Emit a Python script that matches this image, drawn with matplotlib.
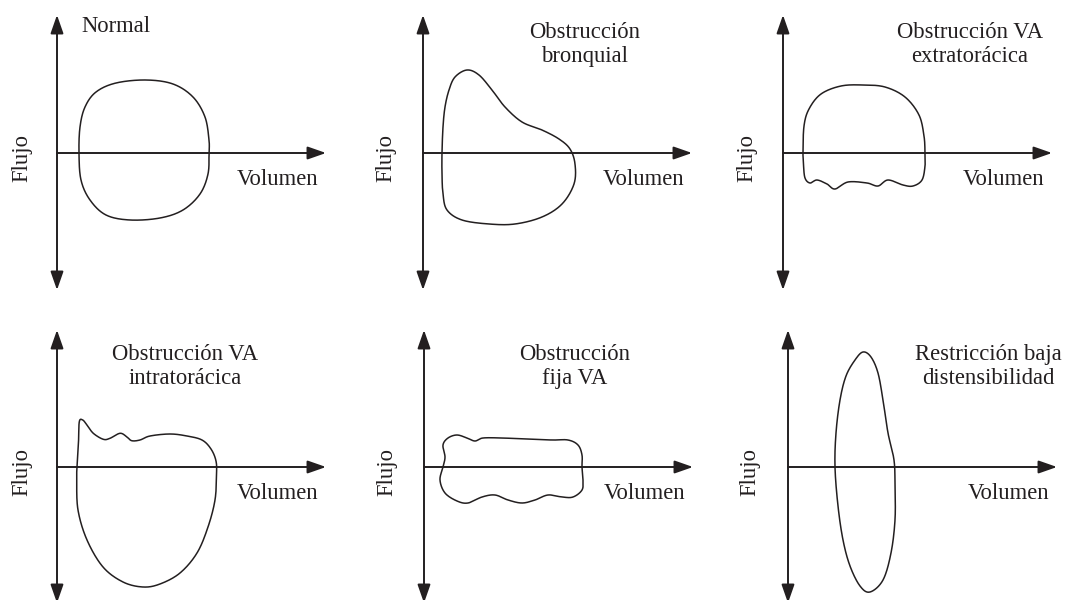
import numpy as np
import matplotlib
matplotlib.use("Agg")
import matplotlib.pyplot as plt

# Flow-volume loop shapes, control points relative to the axis origin (px, y up)
normal_x = [22, 23, 28, 39, 59, 89, 116, 136, 148, 152, 152, 151, 143, 126, 103, 73, 49, 33, 24]
normal_y = [0, 26, 46, 61, 70, 73, 69, 56, 36, 13, 0, -21, -41, -57, -65, -67, -62, -47, -27]

bronq_x = [19, 20, 22, 26, 32, 44, 56, 69, 82, 99, 119, 136, 147, 152, 151, 139, 119, 92, 66, 39, 24, 20, 19]
bronq_y = [0, 26, 46, 63, 76, 83, 78, 63, 46, 31, 23, 14, 4, -11, -31, -51, -64, -71, -71, -67, -57, -41, -21]

extra_x = [20, 21, 26, 38, 58, 80, 102, 122, 136, 141, 142, 142, 139, 130, 120, 105, 95, 84, 65, 52, 44, 34, 27, 22, 20.5]
extra_y = [0, 27, 44, 59, 67, 68, 66, 56, 38, 17, 0, -13, -27, -33, -32, -27, -33, -30, -29, -36, -31, -27, -30, -25, -12]

intra_x = [20, 21.5, 22.3, 25.7, 30, 36.3, 46.3, 53, 63, 69.7, 74.7, 83, 93, 113, 130, 145, 154, 159,
           159.5, 158, 151, 140, 123, 103, 86, 66, 46, 30, 21, 19.7]
intra_y = [0, 25, 45.3, 47, 42, 33.7, 27.7, 28.7, 33.7, 30.3, 26.3, 27, 31, 33, 31, 27, 18, 6,
           -8, -33, -60, -86, -106, -117, -120, -115, -100, -73, -43, -13]

fija_x = [19, 21, 19, 24, 33, 43, 51, 59, 78, 101, 128, 144, 154, 158, 158, 159, 158, 149, 138,
          124, 111, 98, 84, 71, 58, 44, 33, 21, 16]
fija_y = [0, 10, 22, 29, 32, 29, 26, 29, 29, 28, 27, 27, 22, 12, 0, -13, -23, -30, -30,
          -28, -33, -36, -33, -28, -30, -36, -34, -26, -13]

restr_x = [47, 48, 52, 58, 67, 75, 83, 90, 95, 100, 106, 107, 107, 103, 95, 82, 72, 62, 55, 50]
restr_y = [0, 34, 67, 91, 107, 115, 110, 94, 67, 34, 7, -19, -53, -86, -113, -125, -119, -99, -73, -39]

loops = [(normal_x, normal_y), (bronq_x, bronq_y), (extra_x, extra_y),
         (intra_x, intra_y), (fija_x, fija_y), (restr_x, restr_y)]

titles = [["Normal"], ["Obstrucción", "bronquial"], ["Obstrucción VA", "extratorácica"],
          ["Obstrucción VA", "intratorácica"], ["Obstrucción", "fija VA"],
          ["Restricción baja", "distensibilidad"]]

# layout: axis origins in figure pixels (y up), title baselines relative to origin
origins = [(57, 447), (423, 447), (783, 447), (57, 133), (424, 133), (788, 133)]
title_pos = [(24, 121), (162, 115), (187, 115), (128, 107), (151, 107), (200, 107)]
flujo_dx = [-35, -37, -36, -35, -37, -38]

ink = "#231f20"
fs = 16.3
plt.rcParams["font.family"] = ["Liberation Serif", "DejaVu Serif"]


def smooth_closed(x, y, n=24):
    p = np.column_stack([x, y]).astype(float)
    p0, p1, p2, p3 = np.roll(p, 1, 0), p, np.roll(p, -1, 0), np.roll(p, -2, 0)
    t = np.linspace(0, 1, n, endpoint=False)[:, None, None]
    c = 0.5 * ((2 * p1) + (-p0 + p2) * t + (2 * p0 - 5 * p1 + 4 * p2 - p3) * t ** 2
               + (-p0 + 3 * p1 - 3 * p2 + p3) * t ** 3)
    c = c.transpose(1, 0, 2).reshape(-1, 2)
    c = np.vstack([c, c[:1]])
    return c[:, 0], c[:, 1]


fig = plt.figure(figsize=(10.65, 6), dpi=100)
ax = fig.add_axes([0, 0, 1, 1])
ax.set_xlim(0, 1065)
ax.set_ylim(0, 600)
ax.axis("off")

arrow = dict(lw=1.4, color=ink, shrinkA=0, shrinkB=0, mutation_scale=14)

for i, (ox, oy) in enumerate(origins):
    top = 138 if i < 3 else 137
    bot = -137 if i < 3 else -136
    ax.annotate("", xy=(ox, oy + top), xytext=(ox, oy + bot),
                arrowprops=dict(arrowstyle="<|-|>,head_length=0.8,head_width=0.28", **arrow))
    ax.annotate("", xy=(ox + 269, oy), xytext=(ox, oy),
                arrowprops=dict(arrowstyle="-|>,head_length=0.8,head_width=0.28", **arrow))

    lx, ly = loops[i]
    sx, sy = smooth_closed(lx, ly)
    ax.plot(ox + sx, oy + sy, color=ink, lw=1.1)

    tx, ty = title_pos[i]
    ha = "left" if i == 0 else "center"
    for k, line in enumerate(titles[i]):
        ax.text(ox + tx, oy + ty - 24 * k, line, ha=ha, va="baseline", fontsize=fs, color=ink)

    ax.text(ox + flujo_dx[i], oy - 5, "Flujo", rotation=90, ha="center", va="center",
            fontsize=fs, color=ink)
    ax.text(ox + 180, oy - 32, "Volumen", ha="left", va="baseline", fontsize=fs, color=ink)

fig.savefig("out.png", dpi=100, facecolor="white")
